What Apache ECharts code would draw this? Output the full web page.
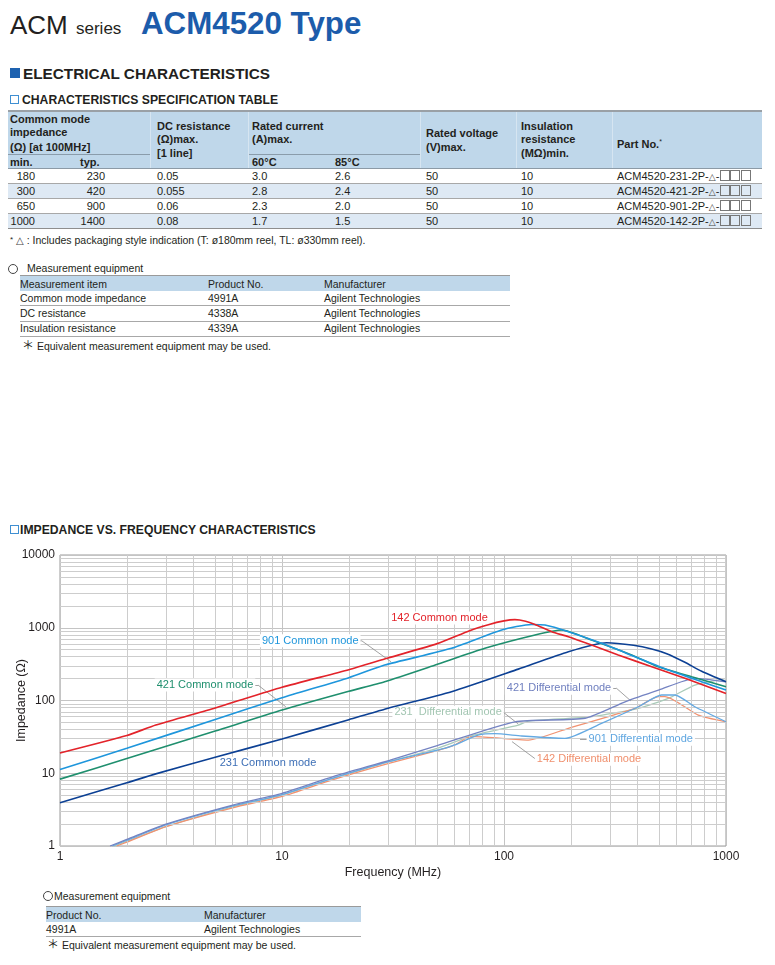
<!DOCTYPE html>
<html><head><meta charset="utf-8">
<script src="https://cdn.jsdelivr.net/npm/echarts@6/dist/echarts.min.js"></script>
<style>
html,body{margin:0;padding:0;background:#fff;}
body{width:775px;height:965px;position:relative;overflow:hidden;font-family:"Liberation Sans",Arial,Helvetica,sans-serif;color:#231f20;}
.a{position:absolute;white-space:nowrap;}
.t{position:absolute;white-space:nowrap;font-size:11px;line-height:14px;}
.s{font-size:10.5px;}
.b{font-weight:bold;}
.r{text-align:right;}
.hd{position:absolute;background:#bfd7ea;}
.ln{position:absolute;height:1px;background:#9c9c9c;}
.vs{position:absolute;width:1px;background:#d6e5f1;}
.alt{position:absolute;background:#dee9f4;}
.box{display:inline-block;width:8px;height:9px;border:1px solid #777;vertical-align:-1px;margin-left:0.5px;}
.tri{font-family:"DejaVu Sans",sans-serif;font-size:9px;color:#444;}
.circ{position:absolute;width:8px;height:8px;border:1px solid #444;border-radius:50%;}
.sq{position:absolute;width:7px;height:7px;border:1px solid #3f8fd2;}
.ast{font-family:"Noto Sans CJK JP",sans-serif;font-size:12px;}
</style></head><body>

<!-- Title -->
<div class="a" style="left:10px;top:12px;font-size:26px;line-height:26px;">ACM</div>
<div class="a" style="left:76px;top:19.6px;font-size:17px;line-height:17px;">series</div>
<div class="a b" style="left:141px;top:8px;font-size:31.3px;line-height:31px;color:#1c5cab;">ACM4520 Type</div>

<!-- Section heads -->
<div class="a" style="left:10px;top:68px;width:10px;height:10px;background:#1e62b0;"></div>
<div class="a b" style="left:23px;top:65.5px;font-size:15.3px;line-height:16px;">ELECTRICAL CHARACTERISTICS</div>
<div class="sq" style="left:10px;top:95px;"></div>
<div class="a b" style="left:22px;top:93px;font-size:12.2px;line-height:14px;">CHARACTERISTICS SPECIFICATION TABLE</div>

<!-- Spec table -->
<div class="hd" style="left:8px;top:112px;width:754px;height:56px;"></div>
<div class="ln" style="left:8px;top:110px;width:754px;height:2px;background:#9aa0a6;"></div>
<div class="vs" style="left:150px;top:112px;height:56px;"></div>
<div class="vs" style="left:248px;top:112px;height:56px;"></div>
<div class="vs" style="left:420px;top:112px;height:56px;"></div>
<div class="vs" style="left:516px;top:112px;height:56px;"></div>
<div class="vs" style="left:612px;top:112px;height:56px;"></div>
<div class="ln" style="left:8px;top:154px;width:142px;background:#8a9cab;"></div>
<div class="ln" style="left:249px;top:154px;width:171px;background:#8a9cab;"></div>
<div class="ln" style="left:8px;top:168px;width:754px;background:#8c9aa6;"></div>

<div class="t b" style="left:10px;top:112px;">Common mode</div>
<div class="t b" style="left:10px;top:125px;">impedance</div>
<div class="t b" style="left:10px;top:140px;">(Ω) [at 100MHz]</div>
<div class="t b" style="left:10px;top:155px;">min.</div>
<div class="t b" style="left:80px;top:155px;">typ.</div>
<div class="t b" style="left:157px;top:119px;">DC resistance</div>
<div class="t b" style="left:157px;top:132px;">(Ω)max.</div>
<div class="t b" style="left:157px;top:146px;">[1 line]</div>
<div class="t b" style="left:252px;top:119px;">Rated current</div>
<div class="t b" style="left:252px;top:132px;">(A)max.</div>
<div class="t b" style="left:252px;top:155px;">60°C</div>
<div class="t b" style="left:335px;top:155px;">85°C</div>
<div class="t b" style="left:426px;top:126px;">Rated voltage</div>
<div class="t b" style="left:426px;top:140px;">(V)max.</div>
<div class="t b" style="left:521px;top:119px;">Insulation</div>
<div class="t b" style="left:521px;top:132px;">resistance</div>
<div class="t b" style="left:521px;top:146px;">(MΩ)min.</div>
<div class="t b" style="left:617px;top:135px;">Part No.<span style="font-size:7px;vertical-align:4px;font-weight:normal;">*</span></div>

<div class="alt" style="left:8px;top:184px;width:754px;height:14px;"></div>
<div class="alt" style="left:8px;top:214px;width:754px;height:14px;"></div>
<div class="ln" style="left:8px;top:183px;width:754px;background:#a8a8a8;"></div>
<div class="ln" style="left:8px;top:198px;width:754px;background:#a8a8a8;"></div>
<div class="ln" style="left:8px;top:213px;width:754px;background:#a8a8a8;"></div>
<div class="ln" style="left:8px;top:228px;width:754px;background:#8e8e8e;"></div>

<div class="t r" style="left:0px;width:35px;top:169px;">180</div>
<div class="t r" style="left:60px;width:45px;top:169px;">230</div>
<div class="t" style="left:157px;top:169px;">0.05</div>
<div class="t" style="left:252px;top:169px;">3.0</div>
<div class="t" style="left:335px;top:169px;">2.6</div>
<div class="t" style="left:426px;top:169px;">50</div>
<div class="t" style="left:521px;top:169px;">10</div>
<div class="t" style="left:617px;top:169px;">ACM4520-231-2P-<span class="tri">△</span>-<span class="box"></span><span class="box"></span><span class="box"></span></div>

<div class="t r" style="left:0px;width:35px;top:184px;">300</div>
<div class="t r" style="left:60px;width:45px;top:184px;">420</div>
<div class="t" style="left:157px;top:184px;">0.055</div>
<div class="t" style="left:252px;top:184px;">2.8</div>
<div class="t" style="left:335px;top:184px;">2.4</div>
<div class="t" style="left:426px;top:184px;">50</div>
<div class="t" style="left:521px;top:184px;">10</div>
<div class="t" style="left:617px;top:184px;">ACM4520-421-2P-<span class="tri">△</span>-<span class="box"></span><span class="box"></span><span class="box"></span></div>

<div class="t r" style="left:0px;width:35px;top:199px;">650</div>
<div class="t r" style="left:60px;width:45px;top:199px;">900</div>
<div class="t" style="left:157px;top:199px;">0.06</div>
<div class="t" style="left:252px;top:199px;">2.3</div>
<div class="t" style="left:335px;top:199px;">2.0</div>
<div class="t" style="left:426px;top:199px;">50</div>
<div class="t" style="left:521px;top:199px;">10</div>
<div class="t" style="left:617px;top:199px;">ACM4520-901-2P-<span class="tri">△</span>-<span class="box"></span><span class="box"></span><span class="box"></span></div>

<div class="t r" style="left:0px;width:35px;top:214px;">1000</div>
<div class="t r" style="left:60px;width:45px;top:214px;">1400</div>
<div class="t" style="left:157px;top:214px;">0.08</div>
<div class="t" style="left:252px;top:214px;">1.7</div>
<div class="t" style="left:335px;top:214px;">1.5</div>
<div class="t" style="left:426px;top:214px;">50</div>
<div class="t" style="left:521px;top:214px;">10</div>
<div class="t" style="left:617px;top:214px;">ACM4520-142-2P-<span class="tri">△</span>-<span class="box"></span><span class="box"></span><span class="box"></span></div>

<div class="t s" style="left:10px;top:233px;"><span style="font-size:8px;vertical-align:2px;">*</span> <span class="tri" style="font-size:10px;">△</span> : Includes packaging style indication (T: ø180mm reel, TL: ø330mm reel).</div>

<!-- Measurement equipment 1 -->
<div class="circ" style="left:8px;top:263.5px;"></div>
<div class="t s" style="left:27px;top:261px;">Measurement equipment</div>
<div class="hd" style="left:20px;top:276px;width:490px;height:15px;"></div>
<div class="ln" style="left:20px;top:275px;width:490px;background:#9a9a9a;"></div>
<div class="t s" style="left:20px;top:277px;">Measurement item</div>
<div class="t s" style="left:208px;top:277px;">Product No.</div>
<div class="t s" style="left:324px;top:277px;">Manufacturer</div>
<div class="t s" style="left:20px;top:291px;">Common mode impedance</div>
<div class="t s" style="left:208px;top:291px;">4991A</div>
<div class="t s" style="left:324px;top:291px;">Agilent Technologies</div>
<div class="ln" style="left:20px;top:305px;width:490px;background:#a8a8a8;"></div>
<div class="t s" style="left:20px;top:306px;">DC resistance</div>
<div class="t s" style="left:208px;top:306px;">4338A</div>
<div class="t s" style="left:324px;top:306px;">Agilent Technologies</div>
<div class="ln" style="left:20px;top:320.5px;width:490px;background:#a8a8a8;"></div>
<div class="t s" style="left:20px;top:321px;">Insulation resistance</div>
<div class="t s" style="left:208px;top:321px;">4339A</div>
<div class="t s" style="left:324px;top:321px;">Agilent Technologies</div>
<div class="ln" style="left:20px;top:336px;width:490px;background:#a8a8a8;"></div>
<div class="t s" style="left:22px;top:338px;"><span class="ast">＊</span> Equivalent measurement equipment may be used.</div>

<!-- Chart title -->
<div class="sq" style="left:10px;top:525px;"></div>
<div class="a b" style="left:20px;top:522.5px;font-size:12.2px;line-height:14px;">IMPEDANCE VS. FREQUENCY CHARACTERISTICS</div>

<div id="chart" style="position:absolute;left:0;top:540px;width:775px;height:345px;"></div>

<!-- Measurement equipment 2 -->
<div class="circ" style="left:43px;top:891px;"></div>
<div class="t s" style="left:54px;top:889px;">Measurement equipment</div>
<div class="hd" style="left:46px;top:907px;width:315px;height:15px;"></div>
<div class="ln" style="left:46px;top:906px;width:315px;background:#9a9a9a;"></div>
<div class="t s" style="left:46px;top:908px;">Product No.</div>
<div class="t s" style="left:204px;top:908px;">Manufacturer</div>
<div class="t s" style="left:46px;top:922px;">4991A</div>
<div class="t s" style="left:204px;top:922px;">Agilent Technologies</div>
<div class="ln" style="left:46px;top:936px;width:315px;background:#a8a8a8;"></div>
<div class="t s" style="left:47px;top:937px;"><span class="ast">＊</span> Equivalent measurement equipment may be used.</div>

<script>
// ---- Chart data (frequency MHz, impedance Ω) ----
const freqTicks = [1, 10, 100, 1000];
const impTicks = [1, 10, 100, 1000, 10000];

const cm142 = [[1,19],[2,33],[2.7,46],[5,79],[10,152],[20,265],[30,384],[50,604],[70,911],[85,1100],[100,1240],[112,1290],[125,1230],[138,1110],[164,883],[195,753],[248,579],[327,422],[463,291],[653,202],[1000,125]];
const cm901 = [[1,11.3],[2,22],[5,55],[10,109],[20,206],[29,307],[58,522],[97.6,931],[133,1110],[153,1091],[195,883],[275,611],[389,400],[550,262],[777,181],[1000,139]];
const cm421 = [[1,8.3],[2,15.9],[5,38],[10,74],[20,134],[29,181],[49,307],[82,522],[138,795],[182,931],[248,679],[376,422],[495,291],[700,212],[1000,155]];
const cm231 = [[1,3.94],[2,7.4],[2.7,9.8],[5,16.6],[10,29.6],[20,54.5],[29,76],[58,132],[116,270],[195,469],[290,623],[383,575],[463,512],[541,440],[653,335],[777,252],[1000,181]];
const dm421 = [[1.68,1],[2,1.23],[3,2.0],[6,3.66],[10,5.3],[17,9],[30.7,15.2],[50,24],[112,51],[232,57],[351,96],[500,140],[724,202],[1000,181]];
const dm231 = [[1.75,1],[2,1.16],[3,1.85],[6,3.45],[10,5.0],[17,8.5],[30,14.3],[50,22],[72,33],[116,46],[129,52],[248,60],[403,78],[550,107],[724,163],[1000,202]];
const dm901 = [[1.72,1],[2,1.2],[3,1.95],[6,3.55],[10,5.1],[17,8.6],[30,14.3],[54,22],[60,24.5],[77,33.6],[91,35],[120,32.5],[188,30.2],[275,48.6],[403,82],[513,119],[589,119],[724,82],[1000,51]];
const dm142 = [[1.8,1],[2,1.13],[3,1.85],[6,3.35],[10,4.8],[17,8.2],[30,13.6],[50,20.5],[60,24.5],[68,30.5],[74,31.8],[129,28.6],[195,41.5],[389,78],[495,113],[531,113],[750,63],[1000,51]];

const seriesNames = ['231 Differential mode','142 Differential mode','901 Differential mode','421 Differential mode','231 Common mode','421 Common mode','901 Common mode','142 Common mode'];
const seriesData = [dm231, dm142, dm901, dm421, cm231, cm421, cm901, cm142];

// annotation text positions (data space) and leader polylines
const labelTexts = ['142 Common mode','901 Common mode','421 Common mode','231 Common mode','421 Differential mode','231  Differential mode','901 Differential mode','142 Differential mode'];
const labelCoords = [[51.2,1362],[13.4,664],[4.5,163],[8.65,13.7],[177,147],[56,68.8],[413,29.3],[241.5,15.6]];
const leaderLines = [
  [[21.8,664],[22.9,660],[31,340]],
  [[7.4,163],[7.8,163],[10.4,82]],
  [[303,148.6],[320,148.6],[373,98.5]],
  [[95.6,69.5],[99,69.5],[116,47.5]],
  [[220,29.3],[718,29.3]],
  [[145,15.6],[139,15.6],[108.7,27.2]]
];

// ---- styles ----
const seriesColors = ['#a9cbb9','#f19271','#64a9e2','#7483c2','#0c4094','#1f8f6e','#1e96dc','#e3232a'];
const seriesWidths = [1.3,1.3,1.3,1.3,1.6,1.6,1.6,1.7];
const labelColors = ['#e3232a','#1e96dc','#1f8f6e','#3d6fb6','#6f7fbf','#a3c6b2','#5fa6e0','#f0906e'];

// minor grid positions (2..9 per decade)
const minorFreq = [], minorImp = [];
for (const d of [1,10,100]) for (let k=2;k<=9;k++) minorFreq.push(k*d);
for (const d of [1,10,100,1000]) for (let k=2;k<=9;k++) minorImp.push(k*d);

const chart = echarts.init(document.getElementById('chart'), null, {renderer:'canvas'});
const textColor = '#231f20';
const ff = 'Liberation Sans, Arial, sans-serif';

const series = [];
series.push({
  type:'line', name:'grid', data:[], z:1, silent:true,
  markLine:{
    silent:true, symbol:['none','none'], animation:false,
    label:{show:false},
    lineStyle:{color:'#cdcdcd', width:1, type:'solid'},
    emphasis:{disabled:true},
    data: minorFreq.map(v=>({xAxis:v})).concat(minorImp.map(v=>({yAxis:v})))
  }
});
series.push({
  type:'line', name:'leaders', data:[], z:2, silent:true,
  markLine:{
    silent:true, symbol:['none','none'], animation:false,
    label:{show:false},
    lineStyle:{color:'#8a8a8a', width:0.8, type:'solid'},
    emphasis:{disabled:true},
    data: leaderLines.flatMap(pl => pl.slice(0,-1).map((p,i)=>[{coord:p},{coord:pl[i+1]}]))
  }
});
seriesData.forEach((d,i)=>{
  series.push({
    type:'line', name:seriesNames[i], data:d, z:3+i,
    showSymbol:false, symbol:'none', smooth:0.2,
    lineStyle:{color:seriesColors[i], width:seriesWidths[i]},
    itemStyle:{color:seriesColors[i]},
    emphasis:{disabled:true}, animation:false
  });
});
series.push({
  type:'line', name:'labels', data:[], z:20, silent:true,
  markPoint:{
    silent:true, animation:false, symbol:'rect', symbolSize:1,
    itemStyle:{color:'rgba(0,0,0,0)'},
    label:{show:true, position:'inside', formatter:'{b}', fontSize:11, fontFamily:ff,
      backgroundColor:'#ffffff', padding:[1,2]},
    data: labelTexts.map((t,i)=>({name:t, coord:labelCoords[i], label:{color:labelColors[i]}}))
  }
});

chart.setOption({
  animation:false,
  grid:{left:60, right:49, top:15, bottom:39, show:true, borderColor:'#9a9a9a', borderWidth:1, backgroundColor:'transparent', containLabel:false, outerBoundsMode:'none'},
  xAxis:{
    type:'log', logBase:10, min:freqTicks[0], max:freqTicks[freqTicks.length-1],
    name:'Frequency (MHz)', nameLocation:'middle', nameGap:20, nameMoveOverlap:false,
    nameTextStyle:{color:textColor, fontSize:12.5, fontFamily:ff},
    axisLine:{show:false}, axisTick:{show:false},
    axisLabel:{color:textColor, fontSize:12, margin:5, fontFamily:ff, formatter:v=>String(Math.round(v))},
    splitLine:{show:true, lineStyle:{color:'#c4c4c4', width:1}}
  },
  yAxis:{
    type:'log', logBase:10, min:impTicks[0], max:impTicks[impTicks.length-1],
    name:'Impedance (Ω)', nameLocation:'middle', nameGap:32, nameRotate:90, nameMoveOverlap:false,
    nameTextStyle:{color:textColor, fontSize:12.5, fontFamily:ff},
    axisLine:{show:false}, axisTick:{show:false},
    axisLabel:{color:textColor, fontSize:12, margin:5, fontFamily:ff, formatter:v=>String(Math.round(v))},
    splitLine:{show:true, lineStyle:{color:'#c4c4c4', width:1}}
  },
  tooltip:{show:false},
  series: series
});
</script>
</body></html>
